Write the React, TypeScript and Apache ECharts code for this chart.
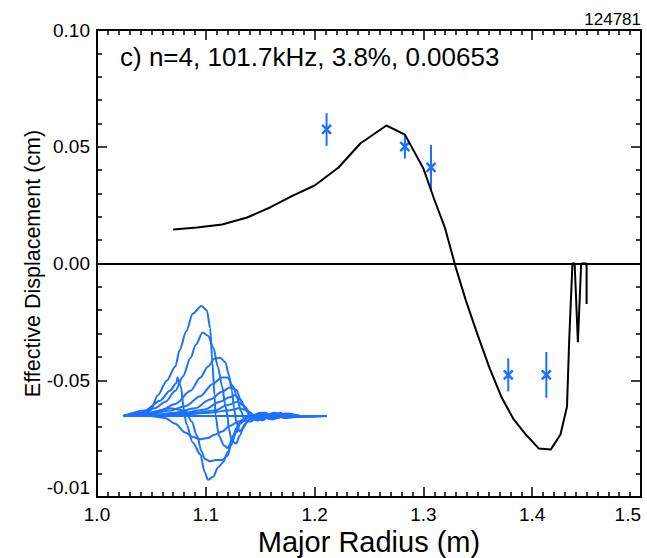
import React, { useEffect, useRef } from "react";
import * as echarts from "echarts";

// Main black curve: major radius (m) vs effective displacement (cm)
const mainR = [1.070, 1.092, 1.115, 1.138, 1.159, 1.180, 1.200, 1.222, 1.242, 1.266, 1.283, 1.300, 1.310, 1.320, 1.330, 1.339, 1.350, 1.361, 1.372, 1.383, 1.394, 1.406, 1.417, 1.426, 1.432, 1.434, 1.437, 1.439, 1.442, 1.445, 1.450, 1.450];
const mainDisp = [0.0146, 0.0154, 0.0167, 0.0197, 0.0240, 0.0291, 0.0334, 0.0411, 0.0514, 0.0591, 0.0552, 0.0407, 0.0274, 0.0150, -0.0021, -0.0158, -0.0308, -0.0450, -0.0574, -0.0668, -0.0732, -0.0792, -0.0797, -0.0732, -0.0612, -0.0330, 0.0, 0.0, -0.0337, 0.0, 0.0, -0.0173];

// Measured points with error bars
const errR = [1.211, 1.283, 1.307, 1.378, 1.413];
const errVal = [0.0574, 0.0501, 0.0412, -0.0477, -0.0477];
const errBar = [0.0070, 0.0051, 0.0096, 0.0071, 0.0098];

// Inset eigenfunction family (R in m, normalized amplitude)
const insetBase = [[1.024, 0], [1.211, 0]];
const insetC1 = [[1.024, 0], [1.040, 0.02], [1.049, 0.05], [1.056, 0.19], [1.064, 0.32], [1.072, 0.45], [1.076, 0.60], [1.082, 0.77], [1.088, 0.93], [1.096, 1.00], [1.101, 0.96], [1.104, 0.80], [1.106, 0.49], [1.108, 0.19], [1.109, 0], [1.112, -0.18], [1.117, -0.27], [1.120, -0.29], [1.124, -0.23], [1.128, -0.11], [1.133, -0.04], [1.141, 0], [1.150, 0.03], [1.159, -0.03], [1.168, 0.03], [1.177, -0.01], [1.187, 0], [1.211, 0]];
const insetC2 = [[1.024, 0], [1.040, 0.03], [1.053, 0.07], [1.063, 0.13], [1.072, 0.23], [1.079, 0.36], [1.086, 0.53], [1.091, 0.65], [1.097, 0.76], [1.102, 0.73], [1.107, 0.62], [1.111, 0.45], [1.115, 0.27], [1.118, 0.09], [1.120, 0], [1.121, -0.11], [1.124, -0.23], [1.128, -0.25], [1.131, -0.18], [1.136, -0.07], [1.143, 0], [1.152, 0.03], [1.161, -0.02], [1.173, 0.02], [1.187, 0], [1.211, 0]];
const insetC3 = [[1.024, 0], [1.044, 0.02], [1.058, 0.05], [1.072, 0.11], [1.086, 0.23], [1.095, 0.35], [1.102, 0.45], [1.108, 0.52], [1.113, 0.53], [1.118, 0.49], [1.121, 0.38], [1.124, 0.23], [1.126, 0.07], [1.128, -0.05], [1.131, -0.14], [1.134, -0.11], [1.139, -0.04], [1.145, 0], [1.154, 0.03], [1.164, -0.02], [1.173, 0.02], [1.187, 0], [1.211, 0]];
const insetC4 = [[1.024, 0], [1.049, 0.02], [1.067, 0.05], [1.081, 0.09], [1.095, 0.18], [1.106, 0.29], [1.115, 0.35], [1.120, 0.35], [1.125, 0.27], [1.129, 0.16], [1.132, 0.05], [1.136, -0.04], [1.141, -0.05], [1.146, -0.02], [1.154, 0.03], [1.164, -0.02], [1.176, 0.02], [1.187, 0], [1.211, 0]];
const insetC5 = [[1.024, 0], [1.053, 0.01], [1.072, 0.03], [1.090, 0.07], [1.104, 0.15], [1.115, 0.22], [1.122, 0.26], [1.128, 0.24], [1.132, 0.15], [1.137, 0.05], [1.142, -0.03], [1.148, -0.04], [1.155, 0.02], [1.165, -0.02], [1.176, 0.02], [1.187, 0], [1.211, 0]];
const insetC6 = [[1.024, 0], [1.058, 0.01], [1.081, 0.03], [1.099, 0.06], [1.113, 0.13], [1.122, 0.17], [1.127, 0.19], [1.131, 0.15], [1.136, 0.08], [1.141, 0.02], [1.146, -0.03], [1.154, 0], [1.163, 0.03], [1.173, -0.01], [1.187, 0], [1.211, 0]];
const insetC7 = [[1.024, 0], [1.067, 0.01], [1.090, 0.03], [1.108, 0.05], [1.120, 0.10], [1.129, 0.13], [1.134, 0.10], [1.140, 0.04], [1.146, -0.02], [1.155, 0.01], [1.165, 0.02], [1.176, -0.01], [1.211, 0]];
const insetC8 = [[1.024, 0], [1.076, 0.01], [1.104, 0.03], [1.120, 0.05], [1.131, 0.07], [1.138, 0.05], [1.143, 0], [1.152, -0.02], [1.164, 0.02], [1.177, 0], [1.211, 0]];
const insetN1 = [[1.024, 0], [1.044, 0.05], [1.058, 0.14], [1.067, 0.23], [1.073, 0.30], [1.074, 0.35], [1.077, 0.27], [1.080, 0.05], [1.082, -0.07], [1.088, -0.24], [1.095, -0.35], [1.099, -0.51], [1.102, -0.58], [1.107, -0.55], [1.111, -0.47], [1.116, -0.42], [1.120, -0.33], [1.125, -0.18], [1.131, -0.07], [1.141, 0], [1.152, -0.04], [1.161, 0.02], [1.173, -0.02], [1.187, 0], [1.211, 0]];
const insetN2 = [[1.024, 0], [1.049, 0.03], [1.067, 0.07], [1.081, 0.05], [1.087, -0.05], [1.092, -0.18], [1.096, -0.32], [1.099, -0.39], [1.104, -0.41], [1.109, -0.40], [1.115, -0.40], [1.120, -0.36], [1.123, -0.27], [1.128, -0.15], [1.132, -0.06], [1.141, 0], [1.152, -0.03], [1.164, 0.02], [1.177, -0.01], [1.211, 0]];
const insetN3 = [[1.024, 0], [1.049, 0], [1.063, -0.02], [1.072, -0.07], [1.081, -0.15], [1.088, -0.19], [1.095, -0.21], [1.102, -0.20], [1.108, -0.17], [1.115, -0.14], [1.122, -0.09], [1.130, -0.05], [1.139, -0.01], [1.150, 0.02], [1.161, -0.03], [1.173, 0.02], [1.187, 0], [1.211, 0]];
const insetCurves = [insetBase, insetC1, insetC2, insetC3, insetC4, insetC5, insetC6, insetC7, insetC8, insetN1, insetN2, insetN3];

const xTicks = [1.0, 1.5, 0.1];
const yTicks = [-0.1, 0.1, 0.05];
const titleText = "c) n=4, 101.7kHz, 3.8%, 0.00653";
const shotText = "124781";

const BLUE = "#1a72ff";
const FONT = "Liberation Sans";

export default function App() {
  const ref = useRef<HTMLDivElement>(null);
  useEffect(() => {
    if (!ref.current) return;
    const chart = echarts.init(ref.current, null, { renderer: "svg" });
    const axisCommon = {
      axisLine: { show: true, onZero: false, lineStyle: { color: "#000", width: 2 } },
      axisTick: { show: true, inside: true, length: 10, lineStyle: { color: "#000", width: 1.5 } },
      minorTick: { show: true, length: 5, lineStyle: { color: "#000", width: 1.5 } },
      splitLine: { show: false },
    };
    const yFmt = (v: number) => (Math.abs(v + 0.1) < 1e-9 ? "-0.01" : v.toFixed(2));
    chart.setOption({
      animation: false,
      backgroundColor: "#fff",
      textStyle: { fontFamily: FONT },
      grid: { left: 97, right: 6, top: 30, bottom: 61, containLabel: false, outerBoundsMode: "none" },
      graphic: [
        { type: "text", left: 120, top: 44, style: { text: titleText, font: `26px '${FONT}'`, fill: "#000" } },
        { type: "text", right: 6, top: 11, style: { text: shotText, font: `17px '${FONT}'`, fill: "#000" } },
      ],
      xAxis: [
        {
          type: "value", position: "bottom", min: xTicks[0], max: xTicks[1], interval: xTicks[2],
          ...axisCommon, minorTick: { ...axisCommon.minorTick, splitNumber: 10 },
          axisLabel: { show: true, fontSize: 19, color: "#000", margin: 8, fontFamily: FONT, formatter: (v: number) => v.toFixed(1), alignMaxLabel: "right" },
          name: "Major Radius (m)", nameLocation: "middle", nameGap: 30, nameMoveOverlap: false,
          nameTextStyle: { fontSize: 29, color: "#000", fontFamily: FONT },
        },
        {
          type: "value", position: "top", min: xTicks[0], max: xTicks[1], interval: xTicks[2],
          ...axisCommon, minorTick: { ...axisCommon.minorTick, splitNumber: 10 },
          axisLabel: { show: false },
        },
      ],
      yAxis: [
        {
          type: "value", position: "left", min: yTicks[0], max: yTicks[1], interval: yTicks[2],
          ...axisCommon, minorTick: { ...axisCommon.minorTick, splitNumber: 5 },
          axisLabel: { show: true, fontSize: 19, color: "#000", margin: 7, fontFamily: FONT, formatter: yFmt, verticalAlignMinLabel: "bottom" },
          name: "Effective Displacement (cm)", nameLocation: "middle", nameGap: 53, nameRotate: 90, nameMoveOverlap: false,
          nameTextStyle: { fontSize: 21.5, color: "#000", fontFamily: FONT },
        },
        {
          type: "value", position: "right", min: yTicks[0], max: yTicks[1], interval: yTicks[2],
          ...axisCommon, minorTick: { ...axisCommon.minorTick, splitNumber: 5 },
          axisLabel: { show: false },
        },
        {
          type: "value", position: "left", min: -0.736, max: 3.509, show: false,
        },
      ],
      series: [
        ...insetCurves.map((c) => ({
          type: "line", xAxisIndex: 0, yAxisIndex: 2, data: c, showSymbol: false, symbol: "none",
          smooth: 0.3, smoothMonotone: "x", silent: true,
          lineStyle: { color: BLUE, width: 2 },
        })),
        {
          type: "line", xAxisIndex: 0, yAxisIndex: 0,
          data: mainR.map((r, i) => [r, mainDisp[i]]),
          symbol: "none", showSymbol: false, silent: true,
          lineStyle: { color: "#000", width: 2 },
          markLine: {
            silent: true, symbol: "none", label: { show: false },
            lineStyle: { color: "#000", width: 2, type: "solid" },
            data: [{ yAxis: 0 }],
          },
        },
        {
          type: "custom", xAxisIndex: 0, yAxisIndex: 0, silent: true,
          data: errR.map((r, i) => [r, errVal[i], errBar[i]]),
          encode: { x: 0, y: 1 },
          renderItem: (_p: any, api: any) => {
            const x = api.value(0), y = api.value(1), e = api.value(2);
            const c = api.coord([x, y]);
            const t = api.coord([x, y + e]);
            const b = api.coord([x, y - e]);
            const s = 4.5;
            return {
              type: "group",
              children: [
                { type: "line", shape: { x1: c[0], y1: t[1], x2: c[0], y2: b[1] }, style: { stroke: BLUE, lineWidth: 2 } },
                { type: "line", shape: { x1: c[0] - s, y1: c[1] - s, x2: c[0] + s, y2: c[1] + s }, style: { stroke: BLUE, lineWidth: 2.5 } },
                { type: "line", shape: { x1: c[0] - s, y1: c[1] + s, x2: c[0] + s, y2: c[1] - s }, style: { stroke: BLUE, lineWidth: 2.5 } },
              ],
            };
          },
        },
      ],
    });
    return () => chart.dispose();
  }, []);
  return <div ref={ref} style={{ position: "fixed", left: 0, top: 0, width: 647, height: 558 }} />;
}
